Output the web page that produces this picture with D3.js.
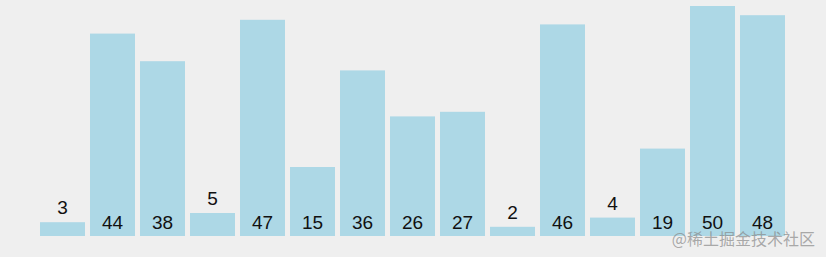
<!DOCTYPE html>
<html><head><meta charset="utf-8">
<script src="https://cdn.jsdelivr.net/npm/d3@7/dist/d3.min.js"></script>
<style>html,body{margin:0;padding:0;background:#efefef;}svg{display:block;}</style>
</head><body>
<script>
const values = [3,44,38,5,47,15,36,26,27,2,46,4,19,50,48];
const watermark = "@稀土掘金技术社区";
const W = 826, H = 257;
const svg = d3.select("body").append("svg").attr("width", W).attr("height", H);
svg.append("rect").attr("width", W).attr("height", H).attr("fill", "#efefef");
const x = d3.scaleBand().domain(d3.range(values.length)).range([40, 785]).paddingInner(0.1).paddingOuter(0);
const y = d3.scaleLinear().domain([0, 50]).range([236, 6]);
svg.selectAll("rect.bar").data(values).join("rect").attr("class","bar")
  .attr("x", (d,i)=>x(i)).attr("width", x.bandwidth())
  .attr("y", d=>y(d)).attr("height", d=>y(0)-y(d)).attr("fill", "#add8e6");
svg.selectAll("text.lab").data(values).join("text").attr("class","lab")
  .attr("x", (d,i)=>x(i)+x.bandwidth()/2)
  .attr("y", d=> (y(0)-y(d) < 30) ? y(d)-8 : y(0)-7.5)
  .attr("text-anchor","middle")
  .attr("font-family","Liberation Sans, Arial, sans-serif")
  .attr("font-size", 19).attr("fill","#111").text(d=>d);
svg.append("text").attr("x", 815).attr("y", 245).attr("text-anchor","end")
  .attr("font-family","Noto Sans CJK SC, sans-serif").attr("font-size", 16)
  .attr("fill","#888").attr("fill-opacity",0.7).text(watermark);
</script>
</body></html>
